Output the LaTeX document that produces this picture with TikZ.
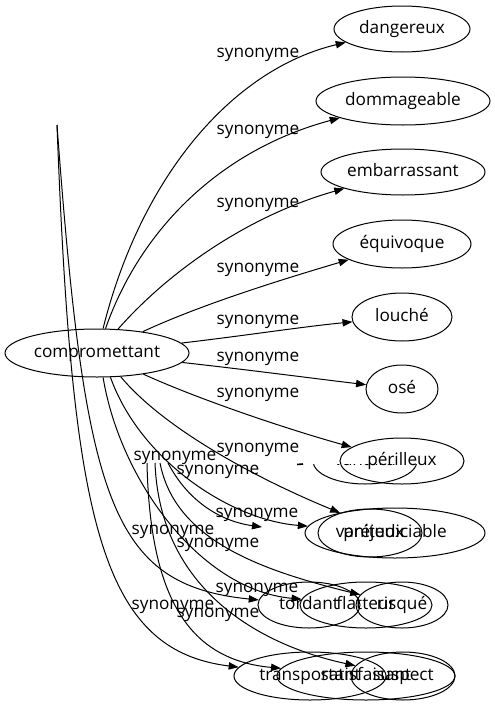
\documentclass[tikz,border=0pt]{standalone}
\usepackage{fontspec}
\setmainfont{Open Sans}
\usetikzlibrary{shapes.geometric,arrows.meta}
\begin{document}
\begin{tikzpicture}[x=0.75pt,y=-0.75pt,
  every node/.style={font=\fontsize{12.9pt}{15pt}\selectfont},
  nd/.style 2 args={draw, ellipse, inner sep=0pt, line width=0.75pt,
     text height=9.6pt, text depth=3pt,
     minimum width=#1*1.5pt, minimum height=#2*1.5pt},
  lab/.style={inner sep=0pt, text height=9.6pt, text depth=3pt},
  arr/.style={line width=0.75pt, -{Triangle[length=7.5pt,width=5.5pt]}},
  ln/.style={line width=0.75pt}]
\useasboundingbox (0,0) rectangle (495,707);

% nodes
\node[nd={92}{24}] (comp) at (97,353) {compromettant};
\node[nd={68}{23}] (dangereux) at (402,29) {dangereux};
\node[nd={87}{24}] (dommageable) at (403,101) {dommageable};
\node[nd={82}{23}] (embarrassant) at (403,172) {embarrassant};
\node[nd={69}{24}] (equivoque) at (402,244) {équivoque};
\node[nd={50}{24}] (louche) at (402,317) {louché};
\node[nd={36}{24}] (ose) at (402,389) {osé};
\node[nd={52}{23}] (vantard) at (365,461) {vantard};
\fill[white] (301,425) rectangle (422,463.5);
\node[nd={62}{23}] (perilleux) at (402,461) {périlleux};
\node[nd={52}{24}] (vaniteux) at (370,533) {vaniteux};
\node[nd={90}{25}] (prejudiciable) at (395,533) {préjudiciable};
\node[nd={51}{23}] (tordant) at (309,605) {tordant};
\node[nd={66}{23}] (flatteur) at (366,605) {flatteur};
\node[nd={46}{23}] (risque) at (402,605) {risqué};
\node[nd={76}{24}] (transportant) at (310,676) {transportant};
\node[nd={89}{24}] (satisfaisant) at (366,676) {satisfaisant};
\node[nd={52}{24}] (suspect) at (403,676) {suspect};

% free ends
\coordinate (P) at (57,125);
\coordinate (s1) at (147,463);
\coordinate (s2) at (155,463);
\coordinate (s3) at (168,463);
\coordinate (s4) at (160,463);
\coordinate (A) at (262,527);

% edges
\draw[arr] (comp) .. controls (140,180) and (230,70) .. (dangereux);
\draw[arr] (comp) .. controls (140,230) and (220,150) .. (dommageable);
\draw[arr] (comp) .. controls (170,270) and (250,215) .. (embarrassant);
\draw[arr] (comp) .. controls (200,305) and (280,280) .. (equivoque);
\draw[arr] (comp) .. controls (250,335) and (300,327) .. (louche);
\draw[arr] (comp) .. controls (250,370) and (310,378) .. (ose);
\draw[arr] (comp) .. controls (200,400) and (290,430) .. (perilleux);
\draw[arr] (comp.-45) .. controls (165,430) and (260,480) .. (vaniteux.146);
\draw[arr] (comp.-61) .. controls (140,460) and (230,520) .. (prejudiciable);
\draw[arr] (comp.-76) .. controls (120,480) and (200,590) .. (flatteur);
\draw[arr] (P) .. controls (72,520) and (100,650) .. (transportant);
\draw[arr] (P) .. controls (85,500) and (110,585) .. (tordant);
\draw[arr] (s1) .. controls (150,600) and (190,660) .. (satisfaisant);
\draw[arr] (s2) .. controls (160,590) and (260,645) .. (suspect);
\draw[arr] (s3) .. controls (190,505) and (225,522) .. (A);
\draw[arr] (s4) .. controls (175,540) and (260,570) .. (risque);
\draw[line width=1.2pt] (297,464.5) -- (303,464);

% labels
\node[lab] (l1) at (258,53) {synonyme};
\node[lab] (l2) at (258,130) {synonyme};
\node[lab] (l3) at (258,203) {synonyme};
\node[lab] (l4) at (258,268) {synonyme};
\node[lab] (l5) at (258,320) {synonyme};
\node[lab] (l6) at (258,357) {synonyme};
\node[lab] (l7) at (258,393) {synonyme};
\node[lab] (l8) at (258,448) {synonyme};
\node[lab] (l9) at (175,456) {synonyme};
\node[lab] (l10) at (218,470) {synonyme};
\node[lab] (l11) at (257,513) {synonyme};
\node[lab] (l12) at (173,530) {synonyme};
\node[lab] (l13) at (218,543) {synonyme};
\node[lab] (l14) at (257,588) {synonyme};
\node[lab] (l15) at (173,605) {synonyme};
\node[lab] (l16) at (218,613) {synonyme};
\end{tikzpicture}
\end{document}
